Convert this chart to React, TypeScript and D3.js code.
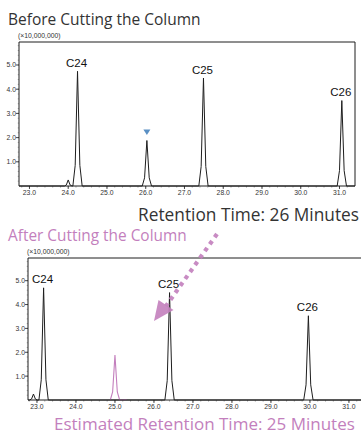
import { line, range, scaleLinear } from "d3";

// Before cutting: peaks
const topTimes = [24.0, 24.24, 26.03, 27.49, 31.06];
const topHeights = [0.25, 4.74, 1.88, 4.46, 3.53];
const topLabels = ["", "C24", "", "C25", "C26"];

// After cutting
const bottomTimes = [22.91, 23.17, 26.4, 29.96];
const bottomHeights = [0.25, 4.7, 4.5, 3.53];
const bottomLabels = ["", "C24", "C25", "C26"];
const estTime = 25.0;
const estHeight = 1.88;

const markedTime = 26.03;
const xTickValues = [23, 24, 25, 26, 27, 28, 29, 30, 31];
const yTickValues = [1, 2, 3, 4, 5];

const PINK = "#c37fbd";
const INK = "#1e1e1e";
const SANS = "'Open Sans', 'Noto Sans', sans-serif";
const ARIAL = "'Liberation Sans', Arial, sans-serif";

// peak profile: [offset in minutes, fraction of height]
const profile: [number, number][] = [
    [-0.12, 0],
    [-0.06, 0.18],
    [0, 1],
    [0.06, 0.18],
    [0.12, 0],
];

type Panel = {
    left: number;
    right: number;
    top: number;
    bottom: number;
    t0: number;
    t1: number;
    box: boolean;
};

function tracePoints(times: number[], heights: number[], t0: number, t1: number) {
    const pts: [number, number][] = [[t0, 0]];
    times.forEach((t, i) => {
        const w = heights[i] < 0.5 ? 0.8 : 1;
        profile.forEach(([dx, f]) => pts.push([t + dx * w, f * heights[i]]));
    });
    pts.push([t1, 0]);
    return pts;
}

function Chrom({
    p,
    times,
    heights,
    labels,
    children,
}: {
    p: Panel;
    times: number[];
    heights: number[];
    labels: string[];
    children?: (x: any, y: any) => any;
}) {
    const x = scaleLinear().domain([p.t0, p.t1]).range([p.left, p.right]);
    const y = scaleLinear().domain([0, 5.95]).range([p.bottom, p.top]);
    const ln = line<[number, number]>()
        .x((d) => x(d[0]))
        .y((d) => y(d[1]));
    const minorX = range(Math.ceil(p.t0 * 5) / 5, p.t1, 0.2);
    const minorY = range(0.2, 5.9, 0.2);

    return (
        <g>
            {/* frame */}
            <line x1={p.left} x2={p.left} y1={p.top} y2={p.bottom} stroke={INK} />
            <line x1={p.left} x2={p.right} y1={p.bottom} y2={p.bottom} stroke={INK} />
            <line x1={p.left} x2={p.right} y1={p.top} y2={p.top} stroke={INK} />
            {p.box && <line x1={p.right} x2={p.right} y1={p.top} y2={p.bottom} stroke={INK} />}
            <text x={p.left - 1} y={p.top - 4} fontSize={6.8} fill="#333" fontFamily={ARIAL}>
                (×10,000,000)
            </text>

            {/* y ticks */}
            {minorY.map((v) => (
                <line key={v} x1={p.left - 1.2} x2={p.left} y1={y(v)} y2={y(v)} stroke="#555" strokeWidth={0.6} />
            ))}
            {yTickValues.map((v) => (
                <g key={v}>
                    <line x1={p.left - 3} x2={p.left} y1={y(v)} y2={y(v)} stroke={INK} strokeWidth={0.8} />
                    <text x={p.left - 3} y={y(v) + 2.4} textAnchor="end" fontSize={6.8} fill="#333" fontFamily={ARIAL}>
                        {v.toFixed(1)}
                    </text>
                </g>
            ))}

            {/* x ticks */}
            {minorX.map((v) => (
                <line key={v} x1={x(v)} x2={x(v)} y1={p.bottom} y2={p.bottom + 1.5} stroke="#555" strokeWidth={0.6} />
            ))}
            {xTickValues.map((v) => (
                <g key={v}>
                    <line x1={x(v)} x2={x(v)} y1={p.bottom} y2={p.bottom + 3} stroke={INK} strokeWidth={0.8} />
                    <text x={x(v)} y={p.bottom + 9} textAnchor="middle" fontSize={6.8} fill="#333" fontFamily={ARIAL}>
                        {v.toFixed(1)}
                    </text>
                </g>
            ))}

            {children && children(x, y)}

            <path d={ln(tracePoints(times, heights, p.t0, p.right > 360 ? 31.5 : p.t1)) ?? ""} fill="none" stroke={INK} strokeWidth={1} strokeLinejoin="round" />

            {labels.map((l, i) =>
                l ? (
                    <text key={l} x={x(times[i]) - 1} y={y(heights[i]) - 4.5} textAnchor="middle" fontSize={11.5} fill="#111" fontFamily={ARIAL}>
                        {l}
                    </text>
                ) : null
            )}
        </g>
    );
}

export default function App() {
    const topPanel: Panel = { left: 19, right: 355, top: 42, bottom: 186, t0: 22.73, t1: 31.4, box: true };
    const botPanel: Panel = { left: 28, right: 370, top: 258, bottom: 400, t0: 22.77, t1: 31.54, box: false };

    return (
        <svg width={361} height={435} style={{ position: "absolute", left: 0, top: 0, background: "#fff" }}>
            <text x={8} y={25} fontSize={15.5} fill="#333" fontFamily={SANS}>
                Before Cutting the Column
            </text>

            <Chrom p={topPanel} times={topTimes} heights={topHeights} labels={topLabels}>
                {(x, y) => {
                    const cx = x(markedTime);
                    const cy = y(topHeights[2]) - 8;
                    return <path d={`M${cx - 3.5},${cy - 3} L${cx + 3.5},${cy - 3} L${cx},${cy + 2.5} Z`} fill="#5a90c4" />;
                }}
            </Chrom>

            <text x={359} y={221} textAnchor="end" fontSize={17.3} fill="#333" fontFamily={SANS}>
                Retention Time: 26 Minutes
            </text>
            <text x={8} y={241} fontSize={15.4} fill={PINK} fontFamily={SANS}>
                After Cutting the Column
            </text>

            <Chrom p={botPanel} times={bottomTimes} heights={bottomHeights} labels={bottomLabels}>
                {(x, y) => {
                    const pts = tracePoints([estTime], [estHeight], estTime - 0.12, estTime + 0.12).slice(1, -1);
                    pts.push([estTime + 0.3, 0.02]);
                    const ln = line<[number, number]>()
                        .x((d) => x(d[0]))
                        .y((d) => y(d[1]));
                    return <path d={ln(pts) ?? ""} fill="none" stroke={PINK} strokeWidth={1.1} />;
                }}
            </Chrom>

            {/* dotted arrow */}
            <line x1={217} y1={234} x2={166} y2={306} stroke={PINK} strokeWidth={4.2} strokeDasharray="4 4.5" opacity={0.9} />
            <path d="M154,321 L158.5,300 L173.5,310 Z" fill={PINK} opacity={0.9} />

            <text x={54} y={430} fontSize={17} fill={PINK} fontFamily={SANS}>
                Estimated Retention Time: 25 Minutes
            </text>
        </svg>
    );
}
